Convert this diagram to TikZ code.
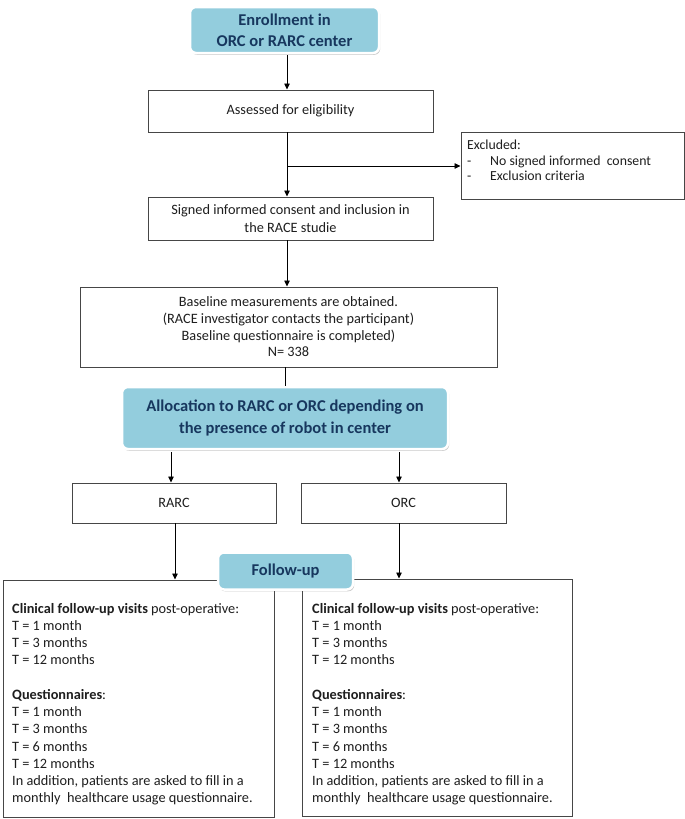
\documentclass[tikz,border=0pt]{standalone}
\usepackage{fontspec}
\setmainfont{Carlito}
\usetikzlibrary{arrows.meta,shadows}
\definecolor{boxblue}{RGB}{147,205,221}
\definecolor{navy}{RGB}{23,55,94}
\definecolor{txt}{RGB}{30,30,30}
\definecolor{edge}{RGB}{70,70,70}
\tikzset{
  plainbox/.style={draw=edge, line width=1pt, fill=white, align=center, text=txt,
    font=\fontsize{14.3}{17.3}\selectfont, inner sep=0pt},
  bluebox/.style={draw=white, line width=2.5pt, fill=boxblue, rounded corners=6pt,
    align=center, text=navy, font=\fontsize{16.5}{21}\selectfont\bfseries, inner sep=0pt,
    drop shadow={shadow xshift=1.2pt, shadow yshift=-1.8pt, opacity=0.35, fill=black!60}},
  bodytext/.style={align=left, text=txt, font=\fontsize{14.3}{17.25}\selectfont, inner sep=0pt, anchor=north west},
  arr/.style={-{Triangle[length=6pt,width=5.5pt]}, line width=0.8pt, draw=black},
  conn/.style={line width=0.8pt, draw=black}
}
\begin{document}
\begin{tikzpicture}[x=1pt,y=-1pt]
\useasboundingbox[fill=white] (0,0) rectangle (685,819);

\node[bluebox, minimum width=189pt, minimum height=46pt] (enroll) at (284.5,30) {Enrollment in\\ORC or RARC center};
\node[plainbox, minimum width=285pt, minimum height=42pt] (assess) at (290.5,111) {Assessed for eligibility};
\node[plainbox, minimum width=223pt, minimum height=67pt] (excl) at (572.5,165.5) {};
\node[bodytext, font=\fontsize{13.8}{15.5}\selectfont] (excltext) at (467,140) {Excluded:\\\makebox[23pt][l]{-}No signed informed\ \ consent\\\makebox[23pt][l]{-}Exclusion criteria};
\node[plainbox, minimum width=285pt, minimum height=43pt] (signed) at (290.5,218.5) {Signed informed consent and inclusion in\\the RACE studie};
\node[plainbox, minimum width=417pt, minimum height=80pt, font=\fontsize{14.3}{16.7}\selectfont] (base) at (288.5,327) {Baseline measurements are obtained.\\(RACE investigator contacts the participant)\\Baseline questionnaire is completed)\\N= 338};
\node[bluebox, minimum width=326pt, minimum height=62pt, font=\fontsize{16.5}{22}\selectfont\bfseries] (alloc) at (285,418) {Allocation to RARC or ORC depending on\\the presence of robot in center};
\node[plainbox, minimum width=204pt, minimum height=40pt] (rarc) at (174,503) {RARC};
\node[plainbox, minimum width=205pt, minimum height=40pt] (orc) at (403.5,503) {ORC};

\node[plainbox, minimum width=271pt, minimum height=237pt] (left) at (138.5,698.5) {};
\node[plainbox, minimum width=270pt, minimum height=237pt] (right) at (437,697.5) {};
\node[bodytext] (lefttext) at (12,603) {\textbf{Clinical follow-up visits} post-operative:\\T = 1 month\\T = 3 months\\T = 12 months\\[17.25pt]\textbf{Questionnaires}:\\T = 1 month\\T = 3 months\\T = 6 months\\T = 12 months\\In addition, patients are asked to fill in a\\monthly\ \ healthcare usage questionnaire.};
\node[bodytext] (righttext) at (312,603) {\textbf{Clinical follow-up visits} post-operative:\\T = 1 month\\T = 3 months\\T = 12 months\\[17.25pt]\textbf{Questionnaires}:\\T = 1 month\\T = 3 months\\T = 6 months\\T = 12 months\\In addition, patients are asked to fill in a\\monthly\ \ healthcare usage questionnaire.};
\node[bluebox, minimum width=135pt, minimum height=37pt] (follow) at (285.5,571) {Follow-up};

\coordinate (c1) at (287,55);
\draw[arr] (c1) -- (c1 |- assess.north);
\coordinate (c2) at (287,132);
\coordinate (branch) at (287,166);
\draw[arr] (c2) -- (c2 |- signed.north);
\draw[arr] (branch) -- (branch -| excl.west);
\coordinate (c3) at (287,240);
\draw[arr] (c3) -- (c3 |- base.north);
\coordinate (c4) at (285,367);
\draw[conn] (c4) -- (c4 |- alloc.north);
\coordinate (c5) at (171,452);
\draw[arr] (c5) -- (c5 |- rarc.north);
\coordinate (c6) at (399,452);
\draw[arr] (c6) -- (c6 |- orc.north);
\coordinate (c7) at (175,523);
\draw[arr] (c7) -- (c7 |- left.north);
\coordinate (c8) at (399,523);
\draw[arr] (c8) -- (c8 |- right.north);
\end{tikzpicture}
\end{document}
